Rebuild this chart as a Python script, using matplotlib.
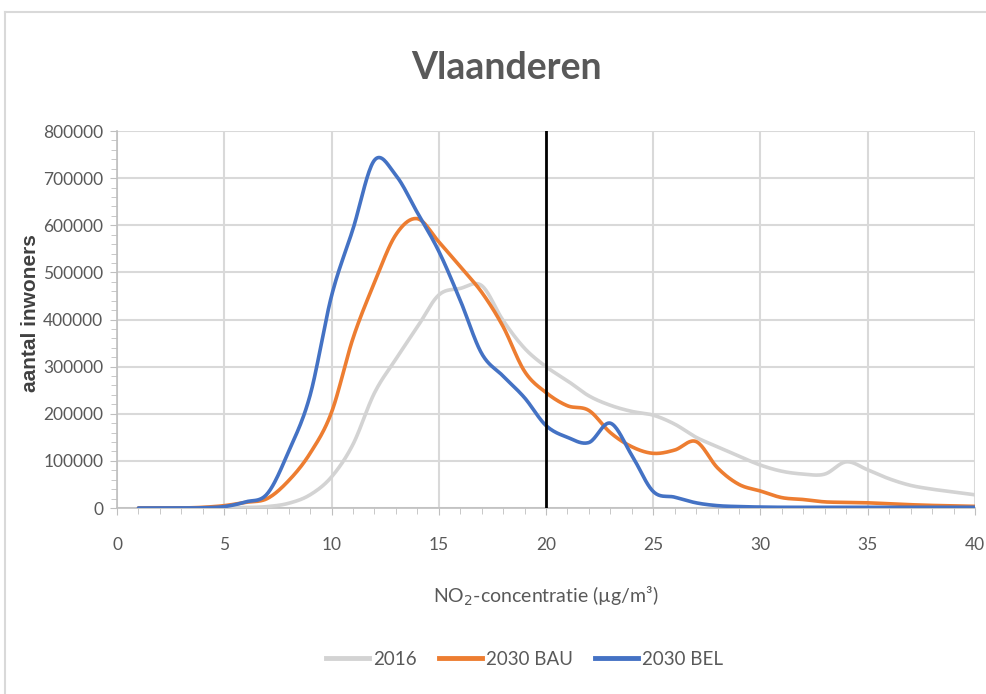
import numpy as np
import matplotlib
matplotlib.use("Agg")
import matplotlib.pyplot as plt
from matplotlib.ticker import MultipleLocator
from matplotlib.lines import Line2D

# ---- data ----
conc = list(range(1, 41))
s2016 = [0, 0, 0, 0, 500, 1000, 3000, 10000, 28000, 66000,
         135000, 244000, 316000, 384000, 452000, 466000, 472000, 398000, 339000, 300000,
         270000, 238000, 218000, 205000, 197000, 178000, 150000, 130000, 110000, 91000,
         78000, 72000, 72000, 98000, 81000, 62000, 48000, 40000, 34000, 28000]
s2030_bau = [0, 0, 0, 1500, 5000, 12000, 20000, 58000, 116000, 203000,
             360000, 478000, 580000, 614000, 565000, 512000, 458000, 385000, 290000, 245000,
             217000, 207000, 160000, 130000, 116000, 123000, 141000, 85000, 50000, 36000,
             22000, 18000, 13000, 12000, 11000, 9000, 7000, 5500, 4500, 3500]
s2030_bel = [0, 0, 0, 500, 3000, 13000, 30000, 120000, 239000, 450000,
             592000, 738000, 706000, 627000, 545000, 441000, 328000, 280000, 234000, 175000,
             150000, 139000, 180000, 112000, 35000, 23000, 11000, 5000, 3000, 2000,
             1500, 1500, 1500, 1500, 1500, 1500, 1500, 1500, 1500, 1500]
series_names = ["2016", "2030 BAU", "2030 BEL"]
limit_value = 20

colors = ["#D3D3D3", "#ED7D31", "#4472C4"]


def smooth(x, y, n=20):
    x = np.asarray(x, float)
    y = np.asarray(y, float)
    P = np.column_stack([x, y])
    P = np.vstack([P[0] - (P[1] - P[0]), P, P[-1] + (P[-1] - P[-2])])
    out = []
    t = np.linspace(0, 1, n, endpoint=False)[:, None]
    for i in range(1, len(P) - 2):
        p0, p1, p2, p3 = P[i - 1], P[i], P[i + 1], P[i + 2]
        c = 0.5 * ((2 * p1) + (-p0 + p2) * t + (2 * p0 - 5 * p1 + 4 * p2 - p3) * t ** 2
                   + (-p0 + 3 * p1 - 3 * p2 + p3) * t ** 3)
        out.append(c)
    out.append(P[-2][None, :])
    out = np.vstack(out)
    return out[:, 0], out[:, 1]


plt.rcParams['font.family'] = ['Lato', 'DejaVu Sans']

fig = plt.figure(figsize=(9.86, 6.94), dpi=100)
ax = fig.add_axes([0.1187, 0.268, 0.8701, 0.5432])

for vals, name, col in zip([s2016, s2030_bau, s2030_bel], series_names, colors):
    sx, sy = smooth(conc, vals)
    ax.plot(sx, sy, color=col, lw=2.6, label=name, solid_capstyle='round', zorder=3)

ax.axvline(limit_value, color="black", lw=2, zorder=4)

ax.set_xlim(0, 40)
ax.set_ylim(0, 800000)
ax.xaxis.set_major_locator(MultipleLocator(5))
ax.xaxis.set_minor_locator(MultipleLocator(1))
ax.yaxis.set_major_locator(MultipleLocator(100000))
ax.yaxis.set_minor_locator(MultipleLocator(20000))
ax.grid(True, which='major', color="#D9D9D9", lw=1.5, zorder=0)
for s in ["top", "right"]:
    ax.spines[s].set_visible(False)
for s in ["left", "bottom"]:
    ax.spines[s].set_color("#BFBFBF")
    ax.spines[s].set_linewidth(1.2)
ax.tick_params(which='both', colors="#BFBFBF", labelcolor="#595959", labelsize=12.5, direction='out')
ax.tick_params(which='major', length=5)
ax.tick_params(which='minor', length=4)
ax.tick_params(axis='x', which='major', pad=16)
ax.tick_params(axis='y', which='major', pad=5)
ax.yaxis.set_major_formatter(matplotlib.ticker.FuncFormatter(lambda v, p: f"{int(v)}"))

ax.set_xlabel("NO$_2$-concentratie (µg/m³)", fontsize=14, color="#595959")
ax.xaxis.set_label_coords((546 - 117) / 858, -(585 - 508) / 377)
ax.set_ylabel("aantal inwoners", fontsize=15, color="#404040", fontweight='bold',
              family=['Liberation Sans', 'DejaVu Sans'])
ax.yaxis.set_label_coords((40 - 117) / 858, (508 - 313) / 377)

fig.text(0.514, 0.902, "Vlaanderen", ha='center', va='center', fontsize=27,
         color="#595959", fontweight='bold')

handles = [Line2D([0], [0], color=c, lw=3.5) for c in colors]
fig.legend(handles, series_names, loc='center', bbox_to_anchor=(0.532, 0.05), ncol=3,
           frameon=False, fontsize=13.5, labelcolor="#595959", handlelength=2.3,
           columnspacing=1.2, handletextpad=0.2)

# outer chart border (top and left)
fig.add_artist(Line2D([5 / 986, 1], [1 - 12 / 694, 1 - 12 / 694], transform=fig.transFigure,
                      color="#D9D9D9", lw=1.5))
fig.add_artist(Line2D([5 / 986, 5 / 986], [0, 1 - 12 / 694], transform=fig.transFigure,
                      color="#D9D9D9", lw=1.5))

fig.savefig("out.png", dpi=100)
